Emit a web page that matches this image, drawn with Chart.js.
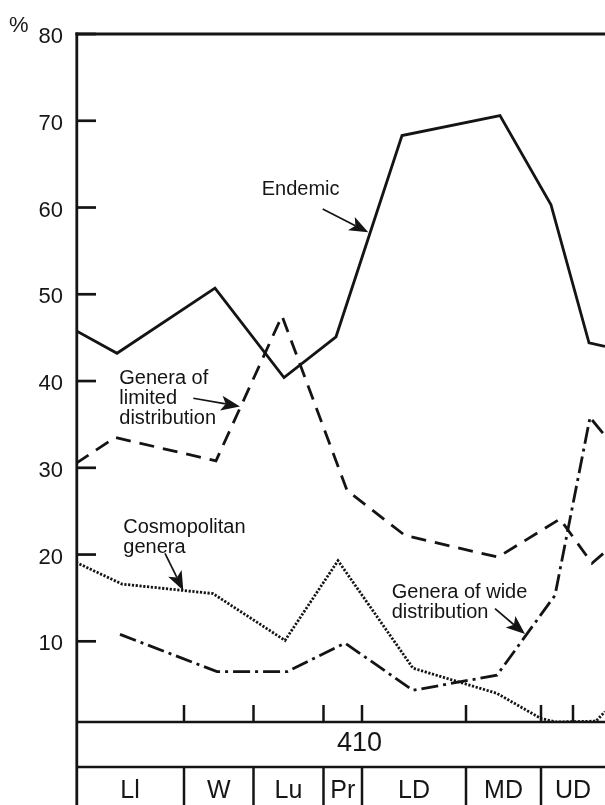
<!DOCTYPE html>
<html>
<head>
<meta charset="utf-8">
<script src="https://cdn.jsdelivr.net/npm/chart.js@4.4.1/dist/chart.umd.min.js"></script>
<style>
  html, body { margin: 0; padding: 0; background: #ffffff; overflow: hidden; }
  #wrap { width: 605px; height: 805px; }
</style>
</head>
<body>
<div id="wrap"><canvas id="chart" width="605" height="805"></canvas></div>
<script>
// Relative time position along the section (0 = base of Llandovery)
const endemicX  = [0, 4.1, 13.9, 20.8, 26.0, 32.6, 42.4, 47.5, 51.3, 52.9];
const endemicY  = [45.8, 43.2, 50.7, 40.4, 45.1, 68.3, 70.6, 60.3, 44.4, 44.0];

const limitedX  = [0, 3.9, 14.0, 20.6, 27.1, 32.9, 42.2, 48.4, 51.6, 52.9];
const limitedY  = [30.5, 33.5, 30.8, 47.5, 27.4, 22.2, 19.7, 24.1, 19.0, 20.3];

const cosmoX    = [0, 4.6, 13.7, 20.9, 26.2, 33.7, 42.1, 46.5, 48.0, 52.0, 52.9];
const cosmoY    = [19.1, 16.6, 15.5, 10.1, 19.3, 6.9, 4.0, 1.1, 0.7, 0.8, 1.9];

const wideX     = [4.4, 14.1, 21.1, 26.9, 33.7, 42.1, 47.9, 51.4, 52.9];
const wideY     = [10.8, 6.5, 6.5, 9.8, 4.35, 6.1, 15.3, 35.8, 33.7];

// Y axis
const yTicks = [10, 20, 30, 40, 50, 60, 70, 80];
const yMin = 0.7, yMax = 80;
const xMin = 0, xMax = 52.9;

// Stratigraphic column below the plot
const stageNames  = ['Ll', 'W', 'Lu', 'Pr', 'LD', 'MD', 'UD'];
const stageBounds = [0, 10.8, 17.75, 24.75, 28.6, 39.0, 46.5, 52.9];
const timeTicks   = [10.8, 17.75, 24.75, 28.6, 39.0, 46.5, 49.7];
const ageLabels   = ['410'];
const agePos      = [28.35];

// Curve labels: text lines, anchor (x, y) and arrow from -> to, in data units
const notes = [
  { lines: ['Endemic'], at: [18.57, 61.45], from: [24.67, 59.84], to: [29.23, 57.15] },
  { lines: ['Genera of', 'limited', 'distribution'], at: [4.33, 39.68], from: [11.73, 38.02], to: [16.4, 37.07] },
  { lines: ['Cosmopolitan', 'genera'], at: [4.73, 22.44], from: [8.9, 20.14], to: [10.73, 15.87] },
  { lines: ['Genera of wide', 'distribution'], at: [31.57, 14.95], from: [41.9, 13.76], to: [44.9, 10.83] }
];

const INK = '#141414';
const FONT = '"Liberation Sans", Arial, Helvetica, sans-serif';

function pts(xs, ys) { return xs.map((x, i) => ({ x: x, y: ys[i] })); }

function arrow(ctx, x1, y1, x2, y2) {
  const ang = Math.atan2(y2 - y1, x2 - x1);
  const len = 19, half = 7.5, notch = 4.5;
  const c = Math.cos(ang), s = Math.sin(ang);
  const bx = x2 - c * len, by = y2 - s * len;
  const nx = x2 - c * (len - notch), ny = y2 - s * (len - notch);
  ctx.beginPath();
  ctx.moveTo(x1, y1);
  ctx.lineTo(nx, ny);
  ctx.lineWidth = 1.7;
  ctx.strokeStyle = INK;
  ctx.stroke();
  ctx.beginPath();
  ctx.moveTo(x2, y2);
  ctx.lineTo(bx - s * half, by + c * half);
  ctx.lineTo(nx, ny);
  ctx.lineTo(bx + s * half, by - c * half);
  ctx.closePath();
  ctx.fillStyle = INK;
  ctx.fill();
}

const framePlugin = {
  id: 'frame',
  afterDraw(chart) {
    const ctx = chart.ctx;
    const area = chart.chartArea;
    const xs = chart.scales.x, ys = chart.scales.y;
    const H = chart.height;
    const bandBottom = area.bottom + 45;
    ctx.save();
    ctx.strokeStyle = INK;
    ctx.lineCap = 'butt';

    // Frame: top edge and left axis running down through the column
    ctx.lineWidth = 2.8;
    ctx.beginPath();
    ctx.moveTo(area.left - 0.6, area.top);
    ctx.lineTo(area.right, area.top);
    ctx.stroke();
    ctx.beginPath();
    ctx.moveTo(area.left + 0.8, area.top - 1.4);
    ctx.lineTo(area.left + 0.8, H);
    ctx.stroke();

    // Inward y ticks
    ctx.lineWidth = 2.7;
    yTicks.forEach(v => {
      const y = ys.getPixelForValue(v);
      ctx.beginPath();
      ctx.moveTo(area.left, y);
      ctx.lineTo(area.left + 20, y);
      ctx.stroke();
    });

    // Column: base line, band line, stage boundaries
    ctx.lineWidth = 2.7;
    ctx.beginPath();
    ctx.moveTo(area.left, area.bottom);
    ctx.lineTo(area.right, area.bottom);
    ctx.moveTo(area.left, bandBottom);
    ctx.lineTo(area.right, bandBottom);
    ctx.stroke();

    ctx.lineWidth = 2.5;
    timeTicks.forEach(v => {
      const x = xs.getPixelForValue(v);
      ctx.beginPath();
      ctx.moveTo(x, area.bottom);
      ctx.lineTo(x, area.bottom - 17);
      ctx.stroke();
    });
    stageBounds.slice(1, -1).forEach(v => {
      const x = xs.getPixelForValue(v);
      ctx.beginPath();
      ctx.moveTo(x, bandBottom);
      ctx.lineTo(x, H);
      ctx.stroke();
    });

    ctx.fillStyle = '#161616';
    ctx.textAlign = 'center';
    ctx.textBaseline = 'alphabetic';
    ctx.font = '27px ' + FONT;
    ageLabels.forEach((t, i) => {
      ctx.fillText(t, xs.getPixelForValue(agePos[i]), area.bottom + 29);
    });
    ctx.font = '25px ' + FONT;
    stageNames.forEach((t, i) => {
      const c = (xs.getPixelForValue(stageBounds[i]) + xs.getPixelForValue(stageBounds[i + 1])) / 2;
      ctx.fillText(t, c, H - 7);
    });

    // Percent sign above the axis labels
    ctx.textAlign = 'left';
    ctx.font = '22px ' + FONT;
    ctx.fillText('%', 9, area.top - 2);

    // Curve labels with arrows
    ctx.font = '20px ' + FONT;
    notes.forEach(n => {
      const x = xs.getPixelForValue(n.at[0]);
      const y = ys.getPixelForValue(n.at[1]);
      n.lines.forEach((t, i) => ctx.fillText(t, x, y + i * 20));
      arrow(ctx,
        xs.getPixelForValue(n.from[0]), ys.getPixelForValue(n.from[1]),
        xs.getPixelForValue(n.to[0]), ys.getPixelForValue(n.to[1]));
    });
    ctx.restore();
  }
};

const base = { borderColor: INK, pointRadius: 0, tension: 0, fill: false, borderCapStyle: 'butt', borderJoinStyle: 'miter' };

new Chart(document.getElementById('chart'), {
  type: 'line',
  data: {
    datasets: [
      Object.assign({ label: 'Endemic', data: pts(endemicX, endemicY), borderWidth: 2.8 }, base),
      Object.assign({ label: 'Genera of limited distribution', data: pts(limitedX, limitedY), borderWidth: 2.8, borderDash: [15, 9] }, base),
      Object.assign({ label: 'Cosmopolitan genera', data: pts(cosmoX, cosmoY), borderWidth: 2.8, borderDash: [2.2, 1.6] }, base),
      Object.assign({ label: 'Genera of wide distribution', data: pts(wideX, wideY), borderWidth: 2.8, borderDash: [17, 5, 3, 5] }, base)
    ]
  },
  options: {
    responsive: false,
    animation: false,
    events: [],
    layout: { padding: { left: 0, right: 0, top: 34, bottom: 83 } },
    plugins: { legend: { display: false }, tooltip: { enabled: false } },
    scales: {
      x: { type: 'linear', min: xMin, max: xMax, display: false },
      y: {
        type: 'linear', min: yMin, max: yMax,
        afterBuildTicks: s => { s.ticks = yTicks.map(v => ({ value: v })); },
        afterFit: s => { s.width = 76; },
        grid: { display: false, drawTicks: false },
        border: { display: false },
        ticks: {
          padding: 13,
          color: '#161616',
          labelOffset: 3,
          font: { size: 22, family: FONT }
        }
      }
    }
  },
  plugins: [framePlugin]
});
</script>
</body>
</html>
